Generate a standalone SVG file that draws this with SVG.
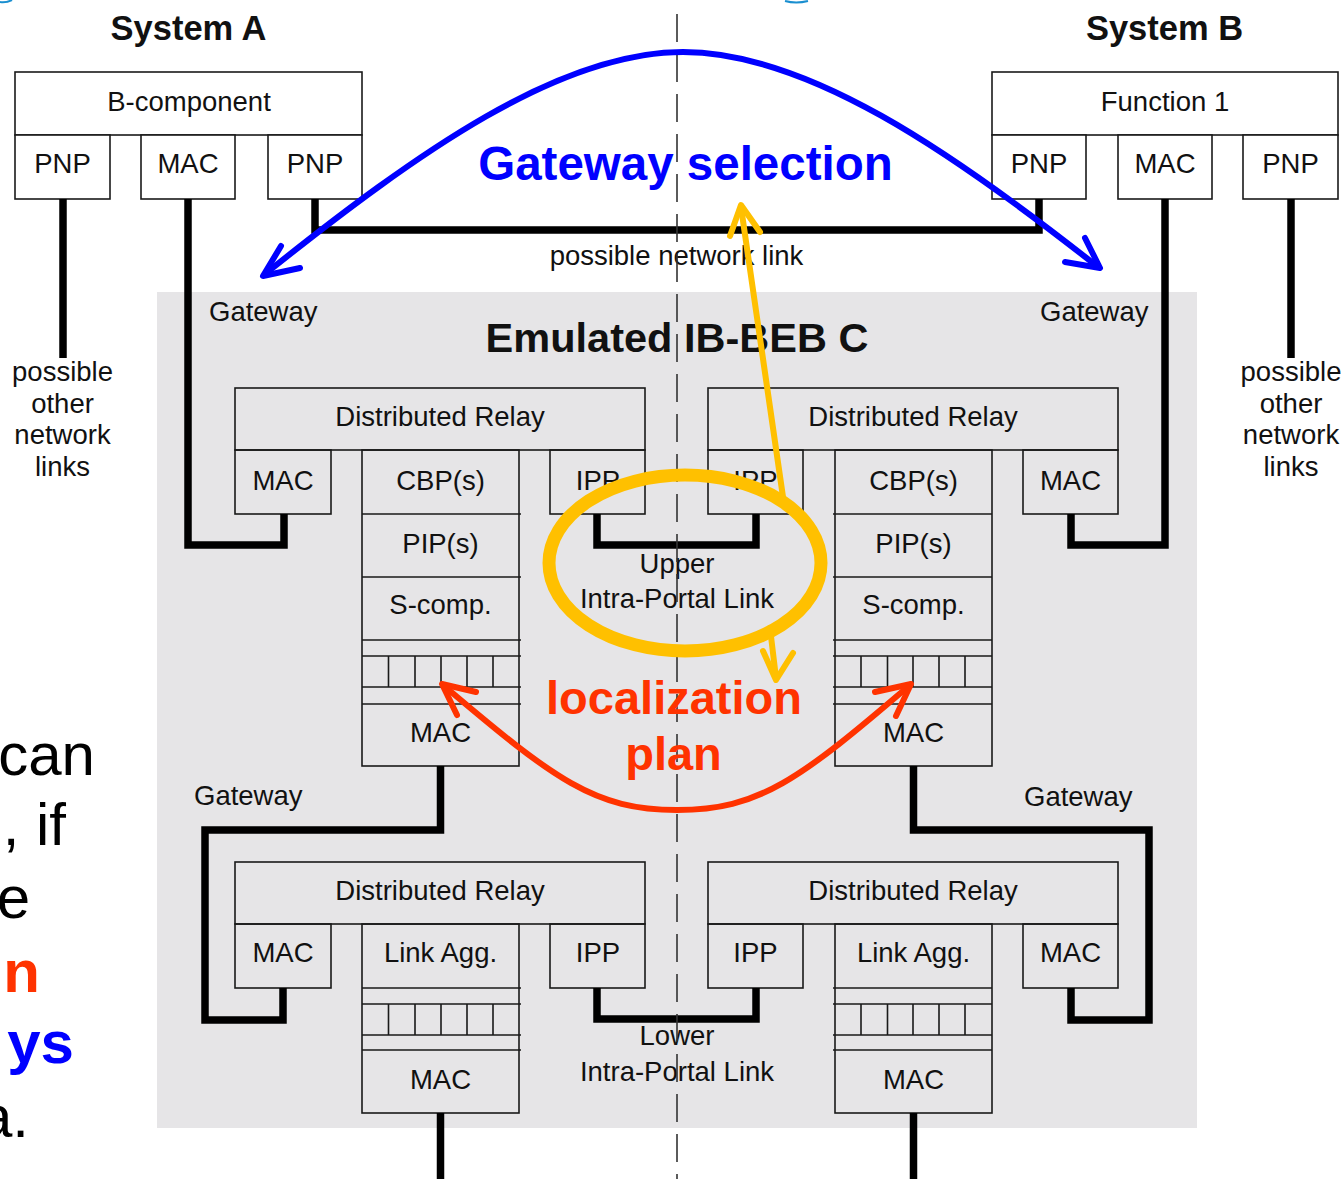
<svg xmlns="http://www.w3.org/2000/svg" width="1344" height="1179" viewBox="0 0 1344 1179">
<style>
.box{fill:none;stroke:#1a1a1a;stroke-width:1.6}
.wbox{fill:#fff;stroke:#1a1a1a;stroke-width:1.6}
.ln{stroke:#1a1a1a;stroke-width:1.6}
.t{font-family:"Liberation Sans",Arial,sans-serif;font-size:27.5px;fill:#111;text-anchor:middle}
.ts{font-family:"Liberation Sans",Arial,sans-serif;font-size:27.5px;fill:#111}
.b{font-family:"Liberation Sans",Arial,sans-serif;font-weight:bold;text-anchor:middle}
.big{font-family:"Liberation Sans",Arial,sans-serif;font-size:60px;text-anchor:end}
.link{fill:none;stroke:#000;stroke-width:7.5;stroke-linejoin:miter}
.ann{fill:none;stroke-width:6;stroke-linecap:round;stroke-linejoin:round}
</style>
<rect width="1344" height="1179" fill="#fff"/>
<path d="M0,2 Q6,3 12,0" fill="none" stroke="#1a8fd0" stroke-width="2"/>
<path d="M785,1 Q796,4 808,1" fill="none" stroke="#1a8fd0" stroke-width="2"/>

<g id="emulated-ib-beb-c">
<rect x="157" y="292" width="1040" height="836" fill="#e6e5e7"/>
<text class="b" x="677" y="352" font-size="41.5" fill="#111">Emulated IB-BEB C</text>
</g>

<g id="system-a">
<text class="b" x="188.5" y="40" font-size="34.5" fill="#111">System A</text>
<rect class="wbox" x="15" y="72" width="347" height="63"/>
<text class="t" x="189" y="111">B-component</text>
<rect class="wbox" x="15" y="135" width="95" height="64"/>
<text class="t" x="62.5" y="173">PNP</text>
<rect class="wbox" x="141" y="135" width="94" height="64"/>
<text class="t" x="188" y="173">MAC</text>
<rect class="wbox" x="268" y="135" width="94" height="64"/>
<text class="t" x="315" y="173">PNP</text>
</g>

<g id="system-b">
<text class="b" x="1164.5" y="40" font-size="34.5" fill="#111">System B</text>
<rect class="wbox" x="992" y="72" width="346" height="63"/>
<text class="t" x="1165" y="111">Function 1</text>
<rect class="wbox" x="992" y="135" width="94" height="64"/>
<text class="t" x="1039" y="173">PNP</text>
<rect class="wbox" x="1118" y="135" width="94" height="64"/>
<text class="t" x="1165" y="173">MAC</text>
<rect class="wbox" x="1243" y="135" width="95" height="64"/>
<text class="t" x="1290.5" y="173">PNP</text>
</g>

<g id="dr-upper-left">
<rect class="box" x="235" y="388" width="410" height="62"/>
<text class="t" x="440" y="426">Distributed Relay</text>
<rect class="box" x="235" y="450" width="96" height="64"/>
<text class="t" x="283" y="490">MAC</text>
<rect class="box" x="362" y="450" width="157" height="316"/>
<path class="ln" d="M362,514H521M362,577H521M362,640H521M362,656H521M362,687H521M362,704H521M388.5,656V687M415,656V687M441,656V687M467,656V687M493,656V687"/>
<text class="t" x="440.5" y="490">CBP(s)</text>
<text class="t" x="440.5" y="553">PIP(s)</text>
<text class="t" x="440.5" y="614">S-comp.</text>
<text class="t" x="440.5" y="742">MAC</text>
<rect class="box" x="550" y="450" width="95" height="64"/>
<text class="t" x="598" y="490">IPP</text>
</g>

<g id="dr-upper-right">
<rect class="box" x="708" y="388" width="410" height="62"/>
<text class="t" x="913" y="426">Distributed Relay</text>
<rect class="box" x="708" y="450" width="95" height="64"/>
<text class="t" x="755.5" y="490">IPP</text>
<rect class="box" x="835" y="450" width="157" height="316"/>
<path class="ln" d="M833,514H992M833,577H992M833,640H992M833,656H992M833,687H992M833,704H992M861,656V687M887.5,656V687M913,656V687M939,656V687M965,656V687"/>
<text class="t" x="913.5" y="490">CBP(s)</text>
<text class="t" x="913.5" y="553">PIP(s)</text>
<text class="t" x="913.5" y="614">S-comp.</text>
<text class="t" x="913.5" y="742">MAC</text>
<rect class="box" x="1023" y="450" width="95" height="64"/>
<text class="t" x="1070.5" y="490">MAC</text>
</g>

<g id="dr-lower-left">
<rect class="box" x="235" y="862" width="410" height="62"/>
<text class="t" x="440" y="900">Distributed Relay</text>
<rect class="box" x="235" y="924" width="96" height="64"/>
<text class="t" x="283" y="962">MAC</text>
<rect class="box" x="362" y="924" width="157" height="189"/>
<path class="ln" d="M362,988H521M362,1004H521M362,1035H521M362,1050H521M388.5,1004V1035M415,1004V1035M441,1004V1035M467,1004V1035M493,1004V1035"/>
<text class="t" x="440.5" y="962">Link Agg.</text>
<text class="t" x="440.5" y="1089">MAC</text>
<rect class="box" x="550" y="924" width="95" height="64"/>
<text class="t" x="598" y="962">IPP</text>
</g>

<g id="dr-lower-right">
<rect class="box" x="708" y="862" width="410" height="62"/>
<text class="t" x="913" y="900">Distributed Relay</text>
<rect class="box" x="708" y="924" width="95" height="64"/>
<text class="t" x="755.5" y="962">IPP</text>
<rect class="box" x="835" y="924" width="157" height="189"/>
<path class="ln" d="M833,988H992M833,1004H992M833,1035H992M833,1050H992M861,1004V1035M887.5,1004V1035M913,1004V1035M939,1004V1035M965,1004V1035"/>
<text class="t" x="913.5" y="962">Link Agg.</text>
<text class="t" x="913.5" y="1089">MAC</text>
<rect class="box" x="1023" y="924" width="95" height="64"/>
<text class="t" x="1070.5" y="962">MAC</text>
</g>

<g id="connectors">
<path class="link" d="M63,199V358"/>
<path class="link" d="M188,199V545H284V514"/>
<path class="link" d="M315,199V230H1039V199"/>
<path class="link" d="M1165,199V545H1071V514"/>
<path class="link" d="M1291,199V358"/>
<path class="link" d="M597,514V545H756V514"/>
<path class="link" d="M440.5,766V830H205V1020H283V988"/>
<path class="link" d="M913.5,766V830H1149V1020H1071V988"/>
<path class="link" d="M597,988V1019H756V988"/>
<path class="link" d="M440.5,1113V1179"/>
<path class="link" d="M913.5,1113V1179"/>
</g>

<g id="labels">
<text class="t" x="676.5" y="265">possible network link</text>
<text class="ts" x="209" y="321">Gateway</text>
<text class="ts" x="1040" y="321">Gateway</text>
<text class="ts" x="194" y="805">Gateway</text>
<text class="ts" x="1024" y="806">Gateway</text>
<text class="t" x="677" y="573">Upper</text>
<text class="t" x="677" y="608">Intra-Portal Link</text>
<text class="t" x="677" y="1045">Lower</text>
<text class="t" x="677" y="1081">Intra-Portal Link</text>
<text class="t" x="62.5" y="381">possible</text>
<text class="t" x="62.5" y="413">other</text>
<text class="t" x="62.5" y="444">network</text>
<text class="t" x="62.5" y="476">links</text>
<text class="t" x="1291" y="381">possible</text>
<text class="t" x="1291" y="413">other</text>
<text class="t" x="1291" y="444">network</text>
<text class="t" x="1291" y="476">links</text>
</g>

<line id="center-axis" x1="677" y1="14" x2="677" y2="1179" stroke="#333" stroke-width="1.6" stroke-dasharray="28 12"/>

<g id="gateway-selection">
<path class="ann" stroke="#0000ff" d="M265,274C420,150 560,52 683,52C806,52 950,150 1098,267"/>
<polyline class="ann" stroke="#0000ff" points="281,246 263,276 300,268"/>
<polyline class="ann" stroke="#0000ff" points="1085,238 1100,268 1065,262"/>
<text class="b" x="685.5" y="180" font-size="47.5" fill="#0000ff">Gateway selection</text>
</g>

<g id="upper-ipl-highlight">
<ellipse cx="685" cy="563" rx="136" ry="88" fill="none" stroke="#ffc000" stroke-width="13"/>
<path class="ann" stroke="#ffc000" d="M783,497L741,207"/>
<polyline class="ann" stroke="#ffc000" points="730,236 741,205 760,232"/>
<path class="ann" stroke="#ffc000" d="M770,628L776,678"/>
<polyline class="ann" stroke="#ffc000" points="763,651 776,680 793,653"/>
</g>

<g id="localization-plan">
<path class="ann" stroke="#ff3300" d="M443,685C555,780 595,810 677,810C759,810 799,780 910,685"/>
<polyline class="ann" stroke="#ff3300" points="476,692 442,684 457,715"/>
<polyline class="ann" stroke="#ff3300" points="875,692 911,684 896,716"/>
<text class="b" x="674" y="714" font-size="47" fill="#ff3300">localization</text>
<text class="b" x="673.5" y="770" font-size="47" fill="#ff3300">plan</text>
</g>

<g id="side-text">
<text class="big" x="95" y="775" fill="#000">can</text>
<text class="big" x="66" y="845" fill="#000">, if</text>
<text class="big" x="30" y="918" fill="#000">e</text>
<text class="big" x="40" y="992" fill="#ff3300" font-weight="bold">n</text>
<text class="big" x="74" y="1063" fill="#0000ff" font-weight="bold">ys</text>
<text class="big" x="29" y="1137" fill="#000">a.</text>
</g>
</svg>
